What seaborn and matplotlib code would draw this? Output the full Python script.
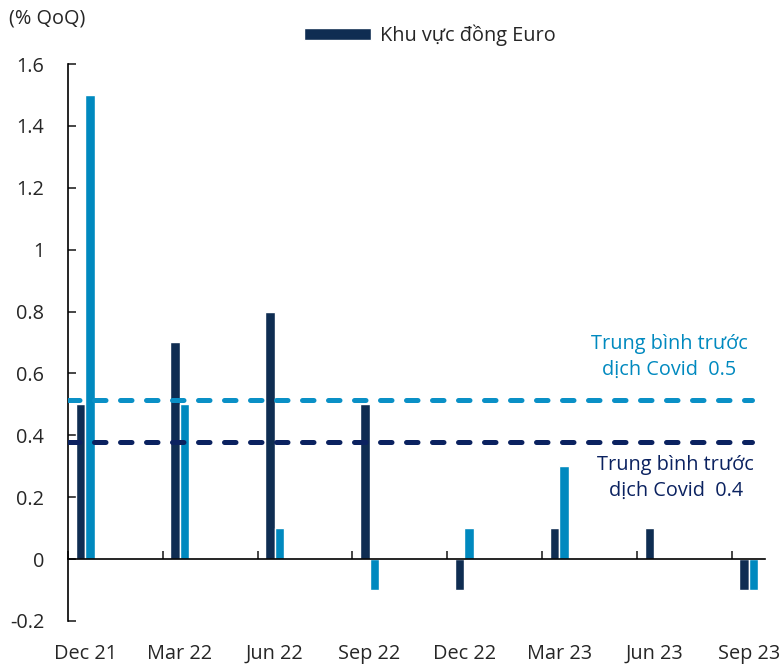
import numpy as np
import pandas as pd
import matplotlib.pyplot as plt
import seaborn as sns
from matplotlib.patches import Patch
from matplotlib.ticker import FixedLocator

quarters = ["Dec 21", "Mar 22", "Jun 22", "Sep 22", "Dec 22", "Mar 23", "Jun 23", "Sep 23"]
euro_area = [0.5, 0.7, 0.8, 0.5, -0.1, 0.1, 0.1, -0.1]
other = [1.5, 0.5, 0.1, -0.1, 0.1, 0.3, 0.0, -0.1]
series_names = ["Khu vực đồng Euro", "Khác"]
avg_other = 0.515
avg_euro = 0.378
y_ticks = [-0.2, 0, 0.2, 0.4, 0.6, 0.8, 1, 1.2, 1.4, 1.6]
y_labels = ["-0.2", "0", "0.2", "0.4", "0.6", "0.8", "1", "1.2", "1.4", "1.6"]

dark = "#0f2d52"
light = "#0089bf"
dash_dark = "#0b2260"
dash_light = "#0a90c6"
fs = 14.3

sns.set_style("white")
plt.rcParams['font.family'] = ['Open Sans', 'DejaVu Sans']

df = pd.DataFrame({
    "quarter": quarters * 2,
    "value": euro_area + other,
    "series": [series_names[0]] * len(quarters) + [series_names[1]] * len(quarters),
})

fig = plt.figure(figsize=(7.84, 6.64), dpi=100)
ax = fig.add_axes([0.0867, 0.0648, 0.889, 0.8388])

sns.barplot(data=df, x="quarter", y="value", hue="series", order=quarters,
            hue_order=series_names, palette=[dark, light], width=0.2,
            saturation=1, ax=ax, legend=False)

n = len(quarters)
ax.set_xlim(-0.18, n - 1 + 0.17)
ax.set_ylim(-0.2, 1.6)

# average lines (pre-Covid)
ax.hlines(avg_other, -0.18, n - 1 + 0.03, colors=dash_light, linewidth=3.6,
          linestyles=(0, (2.3, 2.9)), capstyle="round", zorder=5)
ax.hlines(avg_euro, -0.18, n - 1 + 0.03, colors=dash_dark, linewidth=3.6,
          linestyles=(0, (2.3, 2.9)), capstyle="round", zorder=5)

ax.text(6.16, 0.653, "Trung bình trước\ndịch Covid  0.5", color=light,
        fontsize=fs, ha="center", va="center", linespacing=1.35)
ax.text(6.23, 0.262, "Trung bình trước\ndịch Covid  0.4", color=dash_dark,
        fontsize=fs, ha="center", va="center", linespacing=1.35)

# axes styling
for s in ["top", "right"]:
    ax.spines[s].set_visible(False)
ax.spines["bottom"].set_position(("data", 0))
ax.spines["bottom"].set_color("black")
ax.spines["left"].set_color("black")
ax.spines["bottom"].set_linewidth(1.2)
ax.spines["left"].set_linewidth(1.2)

ax.set_yticks(y_ticks)
ax.set_yticklabels(y_labels)
ax.tick_params(axis="y", direction="in", length=6, width=1.2, labelsize=fs,
               left=True, pad=17)
ax.xaxis.set_minor_locator(FixedLocator([i - 0.18 for i in range(n)]))
ax.tick_params(axis="x", which="minor", direction="in", length=6, width=1.2,
               bottom=True)
ax.tick_params(axis="x", which="major", length=0, labelsize=fs, pad=61)
ax.set_xlabel("")
ax.set_ylabel("")

fig.text(0.012, 0.972, "(% QoQ)", fontsize=fs, ha="left", va="center")
fig.legend(handles=[Patch(facecolor=dark, label=series_names[0])],
           loc="center", bbox_to_anchor=(0.548, 0.947), frameon=False,
           fontsize=fs, handlelength=3.4, handleheight=0.5, handletextpad=0.45)

fig.savefig("out.png", dpi=100)
